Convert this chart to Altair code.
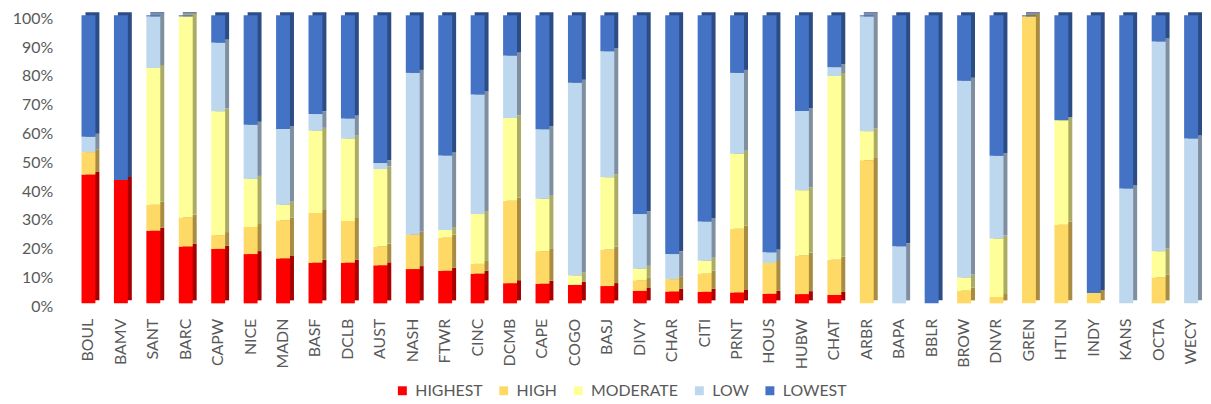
import altair as alt
import pandas as pd

stations = ["BOUL", "BAMV", "SANT", "BARC", "CAPW", "NICE", "MADN", "BASF", "DCLB", "AUST",
            "NASH", "FTWR", "CINC", "DCMB", "CAPE", "COGO", "BASJ", "DIVY", "CHAR", "CITI",
            "PRNT", "HOUS", "HUBW", "CHAT", "ARBR", "BAPA", "BBLR", "BROW", "DNVR", "GREN",
            "HTLN", "INDY", "KANS", "OCTA", "WECY"]
levels = ["HIGHEST", "HIGH", "MODERATE", "LOW", "LOWEST"]

highest = [44.7, 42.8, 25.3, 19.8, 18.9, 17.1, 15.6, 14.1, 14.1, 13.2,
           11.9, 11.3, 10.3, 7.0, 6.8, 6.4, 6.0, 4.3, 4.1, 4.0,
           3.8, 3.3, 3.2, 2.9, 0, 0, 0, 0, 0, 0,
           0, 0, 0, 0, 0]
high = [7.8, 0, 9.1, 10.1, 4.8, 9.4, 13.2, 17.3, 14.5, 6.5,
        11.9, 11.5, 3.4, 28.6, 11.3, 0, 12.7, 3.7, 4.3, 6.3,
        22.1, 10.7, 13.4, 12.2, 49.9, 0, 0, 4.4, 2.2, 100,
        27.3, 3.6, 0, 9.0, 0]
moderate = [0, 0, 47.6, 70.1, 43.0, 16.7, 5.4, 28.5, 28.6, 26.9,
            0, 2.7, 17.3, 28.7, 18.2, 3.3, 25.1, 4.0, 0, 4.5,
            26.0, 0, 22.7, 63.8, 10.1, 0, 0, 4.6, 20.3, 0,
            36.3, 0, 0, 9.1, 0]
low = [5.3, 0, 18.0, 0, 23.8, 18.8, 26.3, 5.8, 7.0, 2.1,
       56.2, 25.8, 41.5, 21.7, 24.1, 66.9, 43.7, 19.0, 8.7, 13.6,
       28.1, 3.7, 27.5, 3.1, 40.0, 19.8, 0, 68.3, 28.7, 0,
       0, 0, 39.9, 72.8, 57.2]
lowest = [42.2, 57.2, 0.4, 0.4, 9.5, 38.0, 39.5, 34.3, 35.8, 51.3,
          20.0, 48.7, 27.5, 14.0, 39.6, 23.4, 12.5, 69.0, 82.9, 71.6,
          20.0, 82.3, 33.2, 18.0, 0.4, 80.2, 100, 22.7, 48.8, 0.4,
          36.4, 96.4, 60.1, 9.1, 42.8]

front_colors = ["#FF0000", "#FFD966", "#FFFF99", "#BDD7EE", "#4472C4"]
side_colors = ["#A80000", "#A88C42", "#ABAB66", "#7F8FA0", "#2C4C86"]

series = [highest, high, moderate, low, lowest]
rows = []
for i, s in enumerate(stations):
    for k, lv in enumerate(levels):
        rows.append({"station": s, "level": lv, "rank": k, "value": series[k][i]})
df = pd.DataFrame(rows)

font = "Lato"
gray = "#595959"

x_enc = alt.X("station:N", sort=stations, title=None,
              scale=alt.Scale(paddingInner=0.571, paddingOuter=0.0),
              axis=alt.Axis(labelAngle=-90, labelFont=font, labelFontSize=16,
                            labelColor=gray, ticks=False, domain=False,
                            labelPadding=15))
y_enc = alt.Y("value:Q", stack="normalize", title=None,
              scale=alt.Scale(domain=[0, 1]),
              axis=alt.Axis(format="%", values=[i / 10 for i in range(11)],
                            labelFont=font, labelFontSize=16, labelColor=gray,
                            ticks=False, domain=False, grid=False,
                            labelPadding=29, labelOffset=3))
order_enc = alt.Order("rank:Q", sort="ascending")

back = alt.Chart(df).mark_bar(xOffset=4, yOffset=-3).encode(
    x=x_enc, y=y_enc, order=order_enc,
    color=alt.Color("level:N", scale=alt.Scale(domain=levels, range=side_colors), legend=None),
)

front = alt.Chart(df).mark_bar().encode(
    x=x_enc, y=y_enc, order=order_enc,
    color=alt.Color("level:N", scale=alt.Scale(domain=levels, range=front_colors),
                    title=None,
                    legend=alt.Legend(orient="none", legendX=315, legendY=370,
                                      direction="horizontal", symbolType="square",
                                      symbolSize=81, symbolStrokeWidth=0,
                                      labelFont=font, labelFontSize=16, labelColor=gray,
                                      columnPadding=13, labelOffset=5)),
)

chart = alt.layer(back, front).resolve_scale(color="independent").properties(
    width=1124, height=290,
    autosize=alt.AutoSizeParams(type="none"),
    padding={"left": 74, "top": 6, "right": 5, "bottom": 100},
).configure_view(stroke=None)

chart.save("out.html", embed_options={"renderer": "svg", "actions": False})
